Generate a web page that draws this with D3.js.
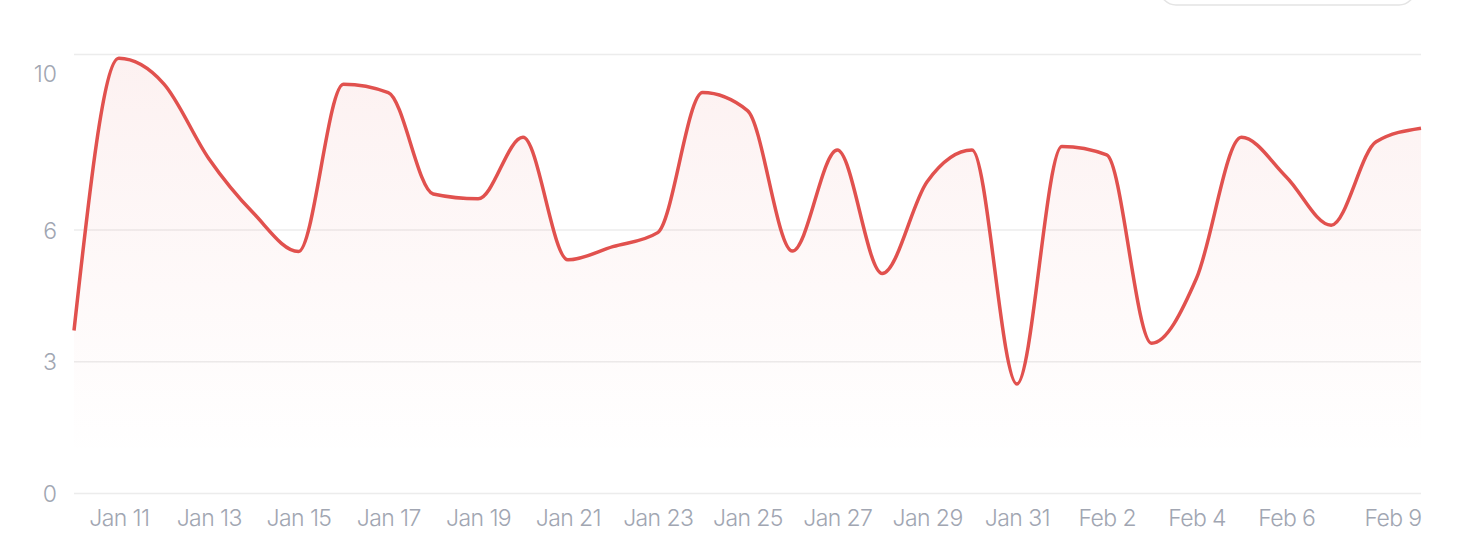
<!DOCTYPE html>
<html><head><meta charset="utf-8">
<script src="https://cdn.jsdelivr.net/npm/d3@7"></script>
<style>
body{margin:0;background:#fff;overflow:hidden}
text{font-family:Inter, "Noto Sans", sans-serif}
</style>
</head><body><svg id="c" width="1458" height="556"></svg>
<script>
const categories = ["Jan 10","Jan 11","Jan 12","Jan 13","Jan 14","Jan 15","Jan 16","Jan 17","Jan 18","Jan 19","Jan 20","Jan 21","Jan 22","Jan 23","Jan 24","Jan 25","Jan 26","Jan 27","Jan 28","Jan 29","Jan 30","Jan 31","Feb 1","Feb 2","Feb 3","Feb 4","Feb 5","Feb 6","Feb 7","Feb 8","Feb 9"];
const values = [3.71, 9.91, 9.33, 7.63, 6.38, 5.51, 9.32, 9.13, 6.82, 6.71, 8.11, 5.32, 5.62, 5.94, 9.13, 8.72, 5.52, 7.82, 5.01, 7.10, 7.82, 2.49, 7.90, 7.71, 3.42, 4.90, 8.11, 7.21, 6.11, 8.01, 8.32];
const xTickLabels = ["Jan 11","Jan 13","Jan 15","Jan 17","Jan 19","Jan 21","Jan 23","Jan 25","Jan 27","Jan 29","Jan 31","Feb 2","Feb 4","Feb 6","Feb 9"];
const yTickValues = [0, 3, 6, 10];

const data = categories.map((c, i) => ({c, v: values[i]}));
const svg = d3.select("#c");
const m = {left: 74, right: 37, top: 54.4, bottom: 62.6};
const W = 1458, H = 556;
const x = d3.scalePoint().domain(categories).range([m.left, W - m.right]);
const y = d3.scaleLinear().domain([0, 10]).range([H - m.bottom, m.top]);

// top-right button outline (partially visible)
svg.append("rect").attr("x", 1160).attr("y", -40).attr("width", 255).attr("height", 45)
  .attr("rx", 16).attr("fill", "#fff").attr("stroke", "#e4e4e4").attr("stroke-width", 1.5);

const defs = svg.append("defs");
const g = defs.append("linearGradient").attr("id", "ag")
  .attr("gradientUnits", "userSpaceOnUse").attr("x1", 0).attr("x2", 0).attr("y1", y(10)).attr("y2", y(0));
g.append("stop").attr("offset", "0%").attr("stop-color", "#e1514e").attr("stop-opacity", 0.08);
g.append("stop").attr("offset", "92%").attr("stop-color", "#e1514e").attr("stop-opacity", 0.0);

// grid
svg.append("g").selectAll("line").data(yTickValues).join("line")
  .attr("x1", m.left).attr("x2", W - m.right)
  .attr("y1", d => y(d)).attr("y2", d => y(d))
  .attr("stroke", "#ececec").attr("stroke-width", 1.5);

// y axis
const yAxis = svg.append("g").attr("transform", "translate(57,0)")
  .call(d3.axisLeft(y).tickValues(yTickValues).tickSize(0).tickPadding(0).tickFormat(d3.format("d")));
yAxis.select(".domain").remove();
yAxis.selectAll("text").attr("fill", "#a1a6b2").attr("font-size", 23).attr("font-family", "Inter")
  .attr("font-weight", 300)
  .attr("dy", d => d === 10 ? "1.17em" : "0.36em");

// x axis
const xAxis = svg.append("g").attr("transform", `translate(0,${H - m.bottom})`)
  .call(d3.axisBottom(x).tickValues(xTickLabels).tickSize(0).tickPadding(0));
xAxis.select(".domain").remove();
xAxis.selectAll("text").attr("fill", "#a1a6b2").attr("font-size", 23).attr("font-family", "Inter")
  .attr("font-weight", 300)
  .attr("letter-spacing", "-0.6").attr("dy", "1.4em").attr("y", 0)
  .attr("text-anchor", d => d === "Feb 9" ? "end" : "middle");

// area + line
const area = d3.area().curve(d3.curveMonotoneX).x(d => x(d.c)).y0(y(0)).y1(d => y(d.v));
const line = d3.line().curve(d3.curveMonotoneX).x(d => x(d.c)).y(d => y(d.v));
svg.append("path").datum(data).attr("d", area).attr("fill", "url(#ag)");
svg.append("path").datum(data).attr("d", line).attr("fill", "none")
  .attr("stroke", "#e1514e").attr("stroke-width", 3.5).attr("stroke-linejoin", "round");
</script>
</body></html>
